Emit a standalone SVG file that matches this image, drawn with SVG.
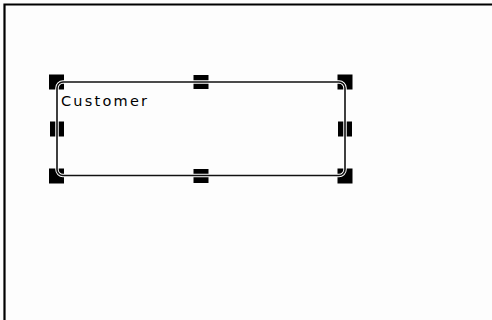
<svg xmlns="http://www.w3.org/2000/svg" width="492" height="320" viewBox="0 0 492 320">
<style>
.h{fill:#000}
.halo{fill:none;stroke:#fff;stroke-width:3.5}
.ln{fill:none;stroke:#111;stroke-width:1.6}
.t{font-family:"DejaVu Sans",Verdana,sans-serif;font-size:14.5px;fill:#000}
</style>
<rect width="492" height="320" fill="#fdfdfd"/>
<path d="M4.5 320 V4.5 H492" fill="none" stroke="#000" stroke-width="2.2"/>
<g id="customer">
<g id="handles">
<rect class="h" x="49" y="74.5" width="15" height="15"/>
<rect class="h" x="337.5" y="74.5" width="15" height="15"/>
<rect class="h" x="49" y="168.5" width="15" height="15"/>
<rect class="h" x="337.5" y="168.5" width="15" height="15"/>
<rect class="h" x="193.5" y="75" width="15" height="14"/>
<rect class="h" x="193.5" y="169" width="15" height="14"/>
<rect class="h" x="50" y="121.5" width="14" height="15"/>
<rect class="h" x="338" y="121.5" width="14" height="15"/>
</g>
<rect class="halo" x="57" y="82" width="288" height="93.5" rx="6"/>
<rect class="ln" x="57" y="82" width="288" height="93.5" rx="6"/>
<text class="t" x="61" y="106" textLength="86" lengthAdjust="spacing">Customer</text>
</g>
</svg>
